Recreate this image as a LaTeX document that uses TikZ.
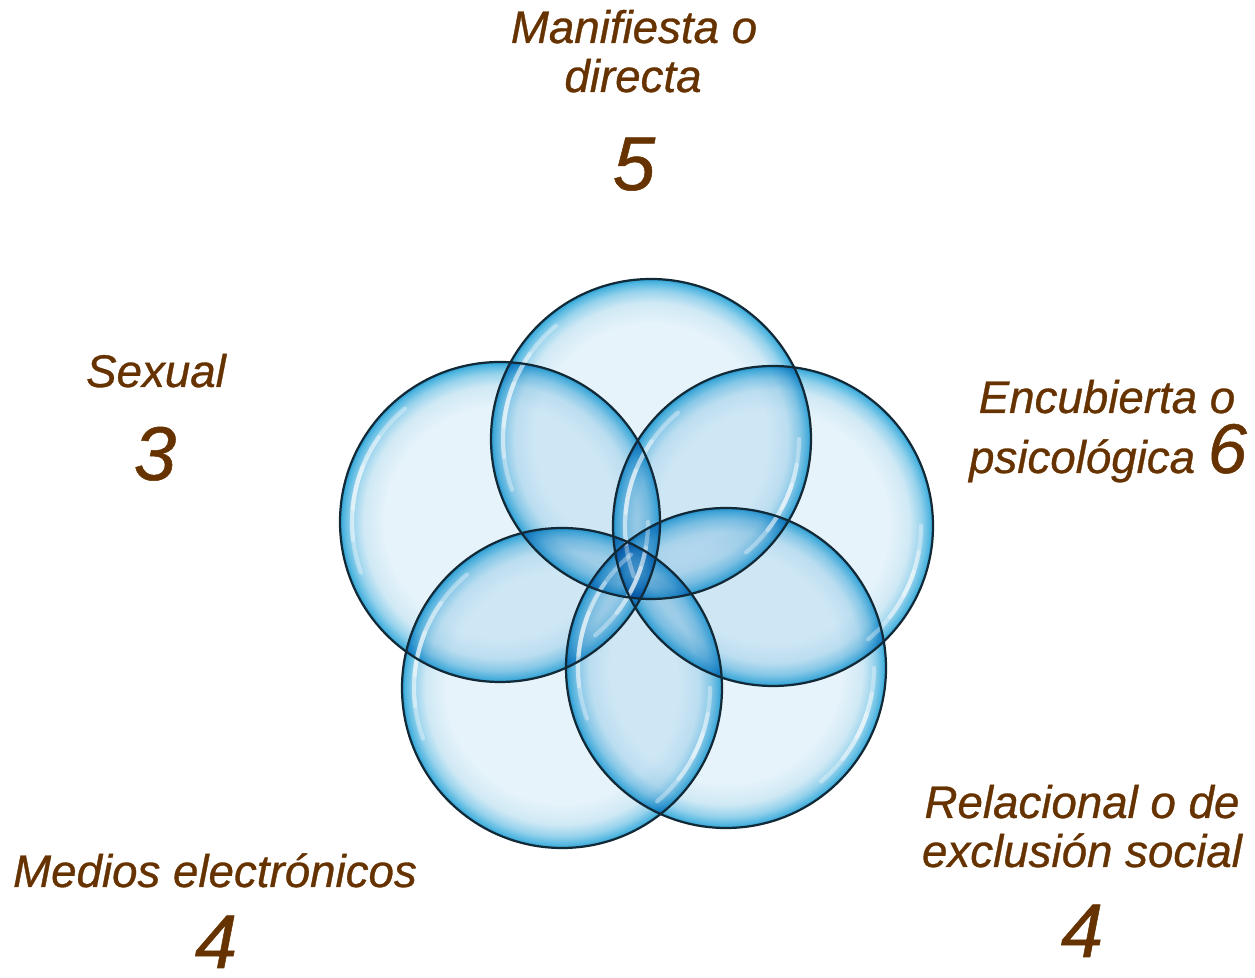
\documentclass[tikz,border=0pt]{standalone}
\usepackage{fontspec}
\setmainfont{Liberation Sans}
\newfontfamily\labfont[ItalicFeatures={FakeBold=0.7}]{Liberation Sans}
\definecolor{bubA}{RGB}{230,243,250}
\definecolor{bubB}{RGB}{208,233,245}
\definecolor{bubC}{RGB}{150,210,236}
\definecolor{bubD}{RGB}{80,182,224}
\definecolor{bubE}{RGB}{45,160,212}
\definecolor{rim}{RGB}{18,42,56}
\definecolor{labbrown}{RGB}{102,51,0}
\pgfdeclareradialshading{bubble}{\pgfpoint{0bp}{0bp}}{color(0bp)=(bubA); color(18bp)=(bubA); color(21.3bp)=(bubB); color(23.2bp)=(bubC); color(24.5bp)=(bubD); color(25bp)=(bubE); color(100bp)=(bubE)}
\begin{document}
\begin{tikzpicture}[x=0.03cm,y=0.03cm,
  lab/.style={font=\fontsize{39}{46}\selectfont\labfont\itshape, text=labbrown, anchor=base, inner sep=0pt},
  num/.style={font=\fontsize{65}{70}\selectfont\labfont\itshape, text=labbrown, anchor=base, inner sep=0pt},
  rimline/.style={draw=rim, line width=1.9pt},
  gloss/.style={draw=white, line width=3.6pt, line cap=round, opacity=0.35}]
\useasboundingbox (0,0) rectangle (1255,978);
\coordinate (cT) at (651,539);
\coordinate (cL) at (500,456);
\coordinate (cR) at (773,452);
\coordinate (cBR) at (726,310);
\coordinate (cBL) at (562,290);
\begin{scope}[blend mode=multiply]
\foreach \c in {cT,cL,cR,cBR,cBL} \shade[shading=bubble] (\c) circle[radius=160];
\end{scope}
\foreach \c in {cT,cL,cR,cBR,cBL} {
  \foreach \a/\b in {130/200,145/187,158/175}
    \draw[gloss] (\c) ++(\a:148) arc[start angle=\a,end angle=\b,radius=148];
  \foreach \a/\b in {-50/0,-38/-10,-28/-18}
    \draw[gloss] (\c) ++(\a:148) arc[start angle=\a,end angle=\b,radius=148];
}
\foreach \c in {cT,cL,cR,cBR,cBL} \draw[rimline] (\c) circle[radius=160];
\node[lab] (manif) at (634,935) {Manifiesta o};
\node[lab] (direc) at (633,886) {directa};
\node[num] (n5) at (634,788) {5};
\node[lab] (sex) at (156,591) {Sexual};
\node[num] (n3) at (155,498) {3};
\node[lab] (encu) at (1107,565) {Encubierta o};
\node[lab] (psico) at (1108,505) {psicológica {\fontsize{60}{64}\selectfont 6}};
\node[lab] (medios) at (215,91) {Medios electrónicos};
\node[num] (n4a) at (216,10) {4};
\node[lab] (rela) at (1082,160) {Relacional o de};
\node[lab] (exclu) at (1082,111) {exclusión social};
\node[num] (n4b) at (1082,21) {4};
\end{tikzpicture}
\end{document}
